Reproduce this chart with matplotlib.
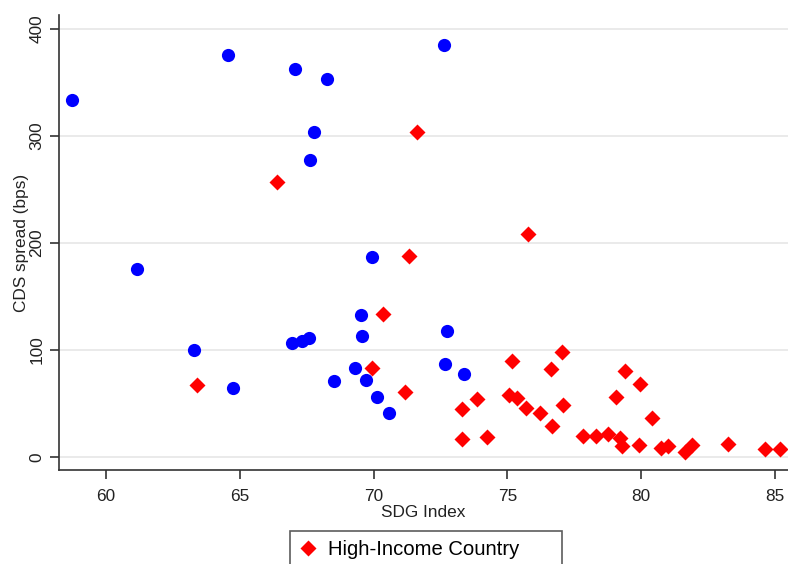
import matplotlib
matplotlib.use('Agg')
import matplotlib.pyplot as plt

plt.rcParams['font.family'] = ['Liberation Sans', 'DejaVu Sans']

# other countries (blue circles)
other_sdg = [58.72, 61.17, 63.29, 64.57, 64.76, 66.96, 67.33, 67.60, 67.06, 67.64,
             67.78, 68.26, 68.52, 69.32, 69.54, 69.58, 69.73, 69.93, 70.11, 70.59,
             72.64, 72.73, 72.68, 73.38]
other_cds = [333, 175.5, 100, 375, 64, 106.7, 108.6, 110.8, 362.5, 277.6,
             303.7, 353, 71, 83, 133, 113, 72, 187, 55.7, 41.4,
             384.6, 117.6, 86.5, 77.8]

# high-income countries (red diamonds)
hi_sdg = [63.40, 66.38, 69.95, 70.36, 71.16, 71.32, 71.63, 73.31, 73.31, 73.86,
          74.22, 75.07, 75.16, 75.35, 75.70, 75.77, 76.22, 76.62, 76.65, 77.05,
          77.07, 77.84, 78.30, 78.77, 79.05, 79.21, 79.27, 79.40, 79.92, 79.96,
          80.42, 80.76, 81.01, 81.64, 81.92, 83.25, 84.63, 85.19]
hi_cds = [66.9, 256.7, 82.8, 133.5, 60.4, 188, 303.4, 45.1, 16.5, 54.4,
          19, 57.9, 89.6, 54.8, 46, 208.5, 40.8, 81.9, 29.2, 97.7,
          48.5, 19.6, 19.6, 21.5, 56.3, 17.4, 10.3, 80.3, 11.2, 67.9,
          36.7, 8.1, 10.3, 5, 11.2, 12.1, 7.5, 7.5]

x_ticks = [60, 65, 70, 75, 80, 85]
y_ticks = [0, 100, 200, 300, 400]

fig = plt.figure(figsize=(7.88, 5.64), dpi=100)
ax = fig.add_axes([59 / 788, 1 - 470 / 564, 1 - 59 / 788, (470 - 15) / 564])

ax.plot(other_sdg, other_cds, 'o', ms=9.5, color='#0000ff', mec='none', zorder=3)
ax.plot(hi_sdg, hi_cds, 'D', ms=8.2, color='#ff0000', mec='none', zorder=3,
        label='High-Income Country')

ax.set_xlim(58.24, 85.49)
ax.set_ylim(-12.1, 412.7)
ax.set_xticks(x_ticks)
ax.set_yticks(y_ticks)
ax.yaxis.grid(True, color='#e6e6e6', lw=1.2)
ax.set_axisbelow(True)

for s in ['top', 'right']:
    ax.spines[s].set_visible(False)
for s in ['left', 'bottom']:
    ax.spines[s].set_color('#333333')
    ax.spines[s].set_linewidth(1.2)

ax.tick_params(axis='both', labelsize=12.4, length=6.5, width=1.2,
               color='#333333', labelcolor='#222222')
ax.tick_params(axis='x', pad=7)
ax.tick_params(axis='y', pad=4)
for lab in ax.get_yticklabels():
    lab.set_rotation(90)
    lab.set_va('center')

ax.set_xlabel('SDG Index', fontsize=12.4, color='#222222', labelpad=1)
ax.set_ylabel('CDS spread (bps)', fontsize=12.4, color='#222222', labelpad=0)

leg = fig.legend(loc='upper left', bbox_to_anchor=(290 / 788, 0.0, 272 / 788, 1 - 531 / 564),
                 mode='expand', fontsize=14.6, frameon=True, fancybox=False,
                 edgecolor='#333333', borderpad=0.45, handlelength=0.9,
                 handletextpad=0.5, borderaxespad=0)
leg.get_frame().set_linewidth(1.2)

fig.savefig('out.png', dpi=100)
